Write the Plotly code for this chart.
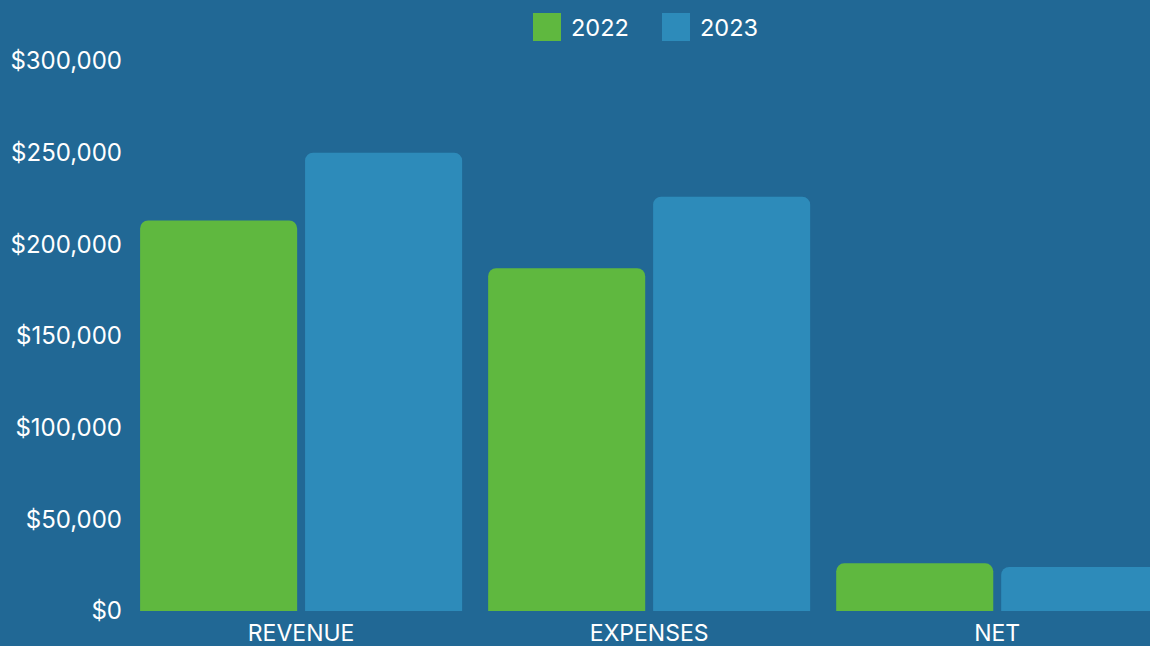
import plotly.graph_objects as go

# chart data
categories = ['REVENUE', 'EXPENSES', 'NET']
years = ['2022', '2023']
values_2022 = [213000, 187000, 26000]
values_2023 = [250000, 226000, 24000]
y_ticks = [0, 50000, 100000, 150000, 200000, 250000, 300000]

bg = '#216895'
green = '#5FB83F'
blue = '#2D8BBA'
font_family = 'Inter, Roboto, sans-serif'

fig = go.Figure()
fig.add_trace(go.Bar(x=categories, y=values_2022, name=years[0],
                     marker=dict(color=green, line=dict(width=0)), showlegend=False))
fig.add_trace(go.Bar(x=categories, y=values_2023, name=years[1],
                     marker=dict(color=blue, line=dict(width=0)), showlegend=False))

# custom legend with large squares
legend_items = [(years[0], green, 533), (years[1], blue, 662)]
for label, color, px in legend_items:
    fig.add_shape(type='rect', xref='paper', yref='paper',
                  x0=(px - 125) / 1025, x1=(px + 28 - 125) / 1025,
                  y0=(646 - 35 - 41) / 550, y1=(646 - 35 - 13) / 550,
                  fillcolor=color, line=dict(width=0), layer='above')
    fig.add_annotation(text=label, xref='paper', yref='paper',
                       x=(px + 36 - 125) / 1025, y=(646 - 35 - 27) / 550,
                       xanchor='left', yanchor='middle', showarrow=False,
                       font=dict(size=23.5, color='white', family=font_family))

fig.update_layout(
    width=1150, height=646,
    paper_bgcolor=bg, plot_bgcolor=bg,
    margin=dict(l=125, r=0, t=61, b=35),
    barmode='group', bargap=0.052, bargroupgap=0.048,
    barcornerradius=8,
    font=dict(family=font_family, color='white', size=23),
    xaxis=dict(range=[-0.506, 2.439], showgrid=False, zeroline=False,
               showline=False, ticks='', tickfont=dict(size=23),
               ticklabelstandoff=6),
    yaxis=dict(range=[0, 300000], tickvals=y_ticks,
               ticktext=['${:,}'.format(v) for v in y_ticks],
               showgrid=False, zeroline=False, showline=False,
               ticks='', tickfont=dict(size=24), ticklabelstandoff=2),
)

# drop the default page margin so the chart fills the window
fig.write_html('out.html', config={'displayModeBar': False},
               post_script="document.body.style.margin='0';document.body.style.overflow='hidden';")
